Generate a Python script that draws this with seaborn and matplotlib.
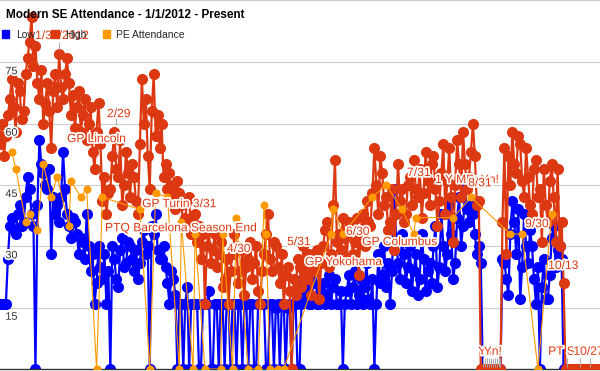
import matplotlib
matplotlib.use("Agg")
import matplotlib.pyplot as plt
import matplotlib.patheffects as pe
from matplotlib.patches import Patch
import seaborn as sns
import pandas as pd

# daily readings from 1/1/2012
start = pd.Timestamp("2012-01-01")

low = [16, 16, 16, 16, 27, 35, 37, 34, 33, 38,
       40, 35, 36, 42, 47, 44, 38, 35, 0, 40,
       56, 50, 48, 45, 44, 49, 28, 42, 38, 40,
       36, 42, 53, 44, 38, 35, 32, 37, 36, 33,
       28, 32, 31, 27, 38, 30, 24, 28, 16, 21,
       30, 25, 22, 28, 16, 24, 0, 30, 27, 22,
       20, 29, 32, 25, 26, 31, 30, 27, 24, 29,
       22, 26, 31, 34, 28, 30, 0, 35, 33, 38,
       29, 27, 27, 30, 25, 21, 16, 24, 22, 18,
       0, 16, 16, 0, 16, 20, 0, 16, 16, 16,
       16, 0, 0, 16, 16, 16, 19, 0, 0, 16,
       16, 0, 16, 16, 0, 16, 16, 0, 16, 16,
       0, 16, 16, 0, 16, 16, 0, 16, 16, 0,
       0, 16, 16, 16, 16, 0, 0, 16, 16, 0,
       15, 16, 0, 16, 16, 0, 15, 16, 0, 16,
       16, 0, 0, 16, 22, 18, 20, 16, 16, 21,
       24, 16, 16, 19, 21, 16, 18, 23, 16, 20,
       22, 16, 16, 19, 0, 16, 19, 23, 16, 20,
       24, 16, 18, 22, 16, 20, 26, 17, 16, 22,
       0, 16, 28, 21, 23, 30, 20, 26, 16, 24,
       44, 32, 26, 22, 33, 28, 21, 25, 30, 19,
       24, 28, 18, 22, 33, 27, 19, 24, 26, 21,
       30, 35, 20, 25, 38, 30, 24, 28, 40, 33,
       22, 26, 37, 42, 30, 35, 44, 39, 36, 40,
       38, 33, 28, 30, 26, 0, 0, 0, 0, 0,
       0, 0, 0, 0, 0, 27, 26, 22, 18, 33,
       41, 36, 28, 39, 17, 25, 38, 30, 26, 34,
       30, 22, 16, 25, 0, 20, 27, 17, 17, 23,
       32, 35, 25, 29, 30, 27, 0, 0, 0, 0,
       0, 0, 0, 0, 0, 0, 0, 0, 0, 0,
       0, 0, 0, 0]

high = [55, 60, 52, 57, 62, 66, 71, 64, 58, 70,
        68, 61, 63, 72, 76, 80, 86, 74, 79, 70,
        66, 73, 60, 65, 70, 63, 54, 68, 72, 64,
        77, 69, 66, 72, 76, 70, 62, 67, 59, 64,
        68, 58, 62, 66, 56, 60, 64, 53, 49, 58,
        65, 55, 41, 47, 38, 43, 44, 52, 58, 49,
        47, 56, 40, 45, 53, 48, 42, 50, 47, 41,
        38, 55, 71, 60, 66, 52, 44, 63, 72, 57,
        62, 54, 60, 47, 50, 44, 48, 41, 45, 39,
        46, 43, 40, 36, 37, 41, 42, 33, 36, 38,
        31, 35, 27, 33, 16, 30, 34, 26, 29, 33,
        25, 28, 31, 20, 22, 27, 16, 24, 28, 33,
        30, 21, 24, 29, 18, 25, 27, 31, 22, 26,
        30, 19, 16, 24, 28, 33, 38, 27, 24, 31,
        30, 25, 21, 28, 16, 23, 25, 19, 0, 22,
        18, 27, 25, 20, 30, 24, 22, 28, 18, 25,
        24, 29, 17, 26, 30, 34, 36, 25, 28, 40,
        51, 31, 33, 29, 37, 32, 27, 36, 35, 28,
        31, 37, 23, 33, 38, 30, 41, 36, 35, 43,
        54, 45, 38, 52, 48, 40, 42, 34, 36, 44,
        29, 38, 50, 41, 44, 36, 38, 45, 47, 40,
        51, 44, 42, 49, 37, 43, 53, 46, 40, 50,
        52, 44, 35, 41, 48, 55, 38, 46, 54, 42,
        31, 45, 56, 50, 42, 58, 50, 44, 47, 53,
        60, 52, 40, 41, 0, 0, 0, 0, 0, 0,
        0, 0, 0, 0, 0, 36, 54, 28, 52, 45,
        58, 50, 48, 57, 55, 46, 42, 54, 47, 40,
        38, 49, 51, 42, 44, 31, 49, 40, 36, 46,
        50, 42, 31, 49, 30, 36, 21, 0, 0, 0,
        0, 0, 0, 0, 0, 0, 0, 0, 0, 0,
        0, 0, 0, 0]

dates = pd.date_range(start, periods=len(low), freq="D")

pe_days = [6, 8, 13, 15, 19, 22, 26, 29, 35, 36, 41, 44, 49, 52, 71,
           76, 79, 85, 91, 92, 98, 99, 104, 112, 113, 118, 120, 126, 131,
           134, 135, 137, 141, 144, 168, 169, 174, 189, 196, 204, 210, 211,
           230, 239, 259, 265, 273, 280]
pe_values = [53, 49, 36, 38, 34, 50, 42, 47, 35, 46, 42, 44, 0, 42, 39,
             0, 43, 42, 0, 36, 0, 33, 0, 0, 33, 0, 37, 0, 0,
             40, 33, 0, 0, 0, 33, 39, 33, 42, 45, 39, 33, 37,
             37, 42, 33, 33, 0, 38]
pe_dates = start + pd.to_timedelta(pe_days, unit="D")

grid_values = [15, 30, 45, 60, 75]

# (text, day, value) for the annotation flags
notes = [
    ("1/31/2012", 17.8, 81.4),
    ("GP Lincoln", 34, 56.2),
    ("2/29", 54.3, 62.3),
    ("PTQ Barcelona Season End", 53.3, 34.4),
    ("GP Turin 3/31", 72.1, 40.3),
    ("4/30", 115.2, 29.3),
    ("5/31", 145.7, 31.0),
    ("GP Yokohama", 154.8, 26.1),
    ("6/30", 175.6, 33.5),
    ("GP Columbus", 183.8, 31.0),
    ("7/31", 206.6, 47.9),
    ("1 Y MP: Yn!", 220.8, 46.2),
    ("8/31", 237.6, 45.4),
    ("9/30", 266.5, 35.4),
    ("10/13", 278.2, 25.2),
    ("Y/N", 242.6, 4.2),
    ("Yn!", 245.5, 4.2),
    ("PT SC", 278.2, 4.2),
    ("10/27", 291.0, 4.2),
]

# little grey flag stems: (day, bottom, top)
stems = [(30, 77.9, 79.9), (59, 59.6, 61.3)]
stems += [(d, 0.6, 2.6) for d in [245, 246, 247, 248, 249, 250, 251, 252, 253, 254]]
stems += [(d, 0.6, 2.6) for d in [288, 294.5, 299.5]]

BLUE = "#0000ff"
RED = "#dc3912"
ORANGE = "#ff9900"

sns.set_style("white")
plt.rcParams["font.family"] = ["Liberation Sans", "DejaVu Sans"]

fig = plt.figure(figsize=(6, 3.71), dpi=100)
ax = fig.add_axes([0, 2 / 371, 1, 369 / 371])

for g in grid_values:
    ax.axhline(g, color="#cccccc", lw=0.8, zorder=0)

sns.lineplot(x=dates, y=low, color=BLUE, marker="o", markersize=8,
             markeredgewidth=0, linewidth=1.6, ax=ax, legend=False, zorder=2)
sns.lineplot(x=dates, y=high, color=RED, marker="o", markersize=8,
             markeredgewidth=0, linewidth=1.6, ax=ax, legend=False, zorder=3)
sns.lineplot(x=pe_dates, y=pe_values, color=ORANGE, marker="o", markersize=5.8,
             markeredgewidth=0, linewidth=0.8, ax=ax, legend=False, zorder=4)

for day, y0, y1 in stems:
    ax.vlines(start + pd.Timedelta(days=day), y0, y1, color="#aaaaaa", lw=0.7, zorder=5)

ax.set_xlim(start, start + pd.Timedelta(days=304.5))
ax.set_ylim(0, 90.2)
ax.set_xticks([])
ax.set_yticks([])
ax.set_xlabel("")
ax.set_ylabel("")
for s in ["left", "right"]:
    ax.spines[s].set_visible(False)
ax.spines["bottom"].set_color("#333333")
ax.spines["bottom"].set_linewidth(1)
ax.spines["top"].set_color("#cccccc")
ax.spines["top"].set_linewidth(0.8)

halo = [pe.withStroke(linewidth=2.5, foreground="white")]

for g in grid_values:
    ax.text(0.009, g - 1.0, str(g), transform=ax.get_yaxis_transform(),
            fontsize=7.8, color="#333333", va="top", ha="left",
            path_effects=halo, zorder=6)

for label, day, val in notes:
    ax.text(start + pd.Timedelta(days=day), val, label, fontsize=8.7,
            color=RED, va="center", ha="left", path_effects=halo, zorder=7)

fig.text(0.01, 0.96, "Modern SE Attendance - 1/1/2012 - Present",
         fontsize=8.5, fontweight="bold", color="black", va="center")

handles = [Patch(color=BLUE, label="Low"), Patch(color=RED, label="High"),
           Patch(color=ORANGE, label="PE Attendance")]
leg = fig.legend(handles=handles, loc="upper left", bbox_to_anchor=(-0.012, 0.945),
                 ncol=3, frameon=False, fontsize=7.5, handlelength=0.7,
                 handleheight=0.7, handletextpad=0.6, columnspacing=1.6)
leg.set_zorder(10)

fig.savefig("out.png", dpi=100)
